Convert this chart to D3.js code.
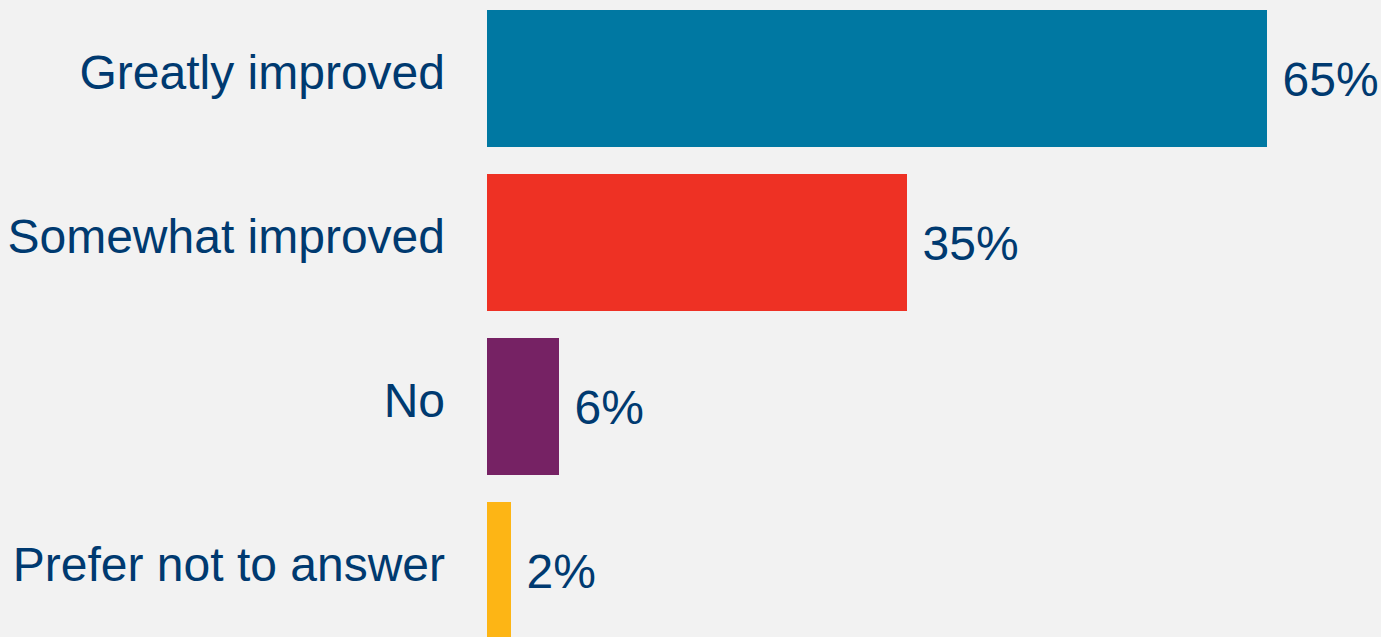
<!DOCTYPE html>
<html><head><meta charset="utf-8">
<script src="https://cdn.jsdelivr.net/npm/d3@7"></script>
<style>html,body{margin:0;padding:0;background:#F2F2F2;overflow:hidden}</style>
</head><body>
<svg id="c" width="1381" height="637"></svg>
<script>
const categories = ["Greatly improved", "Somewhat improved", "No", "Prefer not to answer"];
const values = [65, 35, 6, 2];
const colors = ["#0078A2", "#EE3124", "#762264", "#FDB515"];

const svg = d3.select("#c");
svg.append("rect").attr("width",1381).attr("height",637).attr("fill","#F2F2F2");

const y = d3.scaleBand().domain(categories).range([-3.5, 652.5])
  .paddingInner(27/164).paddingOuter(13.5/164);
const x = d3.scaleLinear().domain([0, 65]).range([487, 1267]);

svg.selectAll("rect.bar").data(categories).enter().append("rect")
  .attr("class","bar")
  .attr("x", x(0))
  .attr("y", d => y(d))
  .attr("width", (d,i) => x(values[i]) - x(0))
  .attr("height", y.bandwidth())
  .attr("fill", (d,i) => colors[i]);

const font = "'Liberation Sans', Arial, sans-serif";
svg.selectAll("text.cat").data(categories).enter().append("text")
  .attr("class","cat")
  .attr("x", 445)
  .attr("y", d => y(d) + y.bandwidth()/2 + 10)
  .attr("text-anchor","end")
  .attr("font-family", font).attr("font-size", 48)
  .attr("fill", "#003A70")
  .text(d => d);

svg.selectAll("text.val").data(categories).enter().append("text")
  .attr("class","val")
  .attr("x", (d,i) => x(values[i]) + 15.5)
  .attr("y", d => y(d) + y.bandwidth()/2 + 17.5)
  .attr("font-family", font).attr("font-size", 48)
  .attr("fill", "#003A70")
  .text((d,i) => values[i] + "%");
</script>
</body></html>
